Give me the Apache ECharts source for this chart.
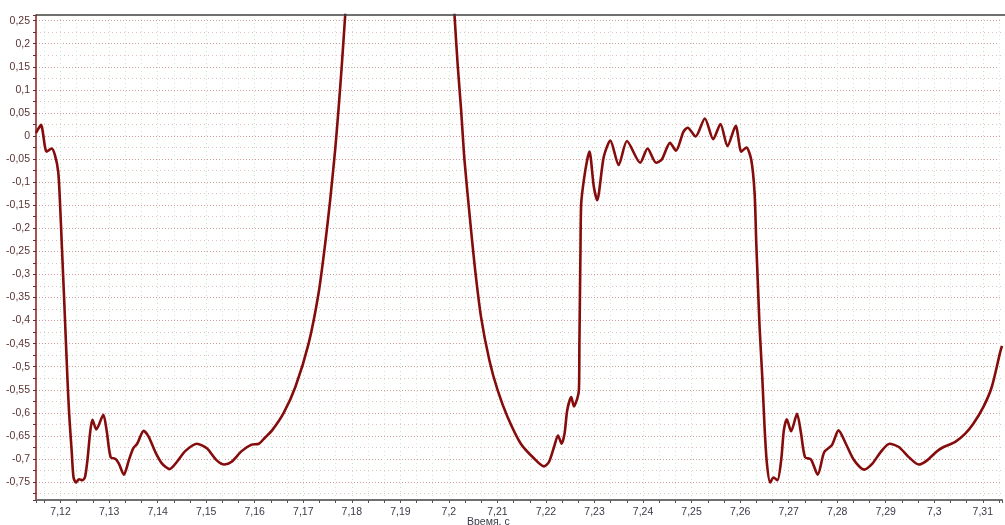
<!DOCTYPE html>
<html>
<head>
<meta charset="utf-8">
<script src="https://cdn.jsdelivr.net/npm/echarts@6/dist/echarts.min.js"></script>
<style>
html,body{margin:0;padding:0;background:#fff;overflow:hidden;}
#chart{width:1005px;height:525px;}
</style>
</head>
<body>
<div id="chart"></div>
<script>
// Time, s
var times = [
7.11494,7.11596,7.11713,7.11816,7.11883,7.11951,7.11986,7.12027,7.12078,7.12143,
7.12176,7.12232,7.12266,7.12314,7.12381,7.12451,7.12504,7.12553,7.12607,7.12656,
7.12738,7.12881,7.12949,7.13031,7.13133,7.13201,7.13304,7.13406,7.13496,7.13578,
7.13713,7.13816,7.13953,7.14091,7.14246,7.14398,7.14568,7.14808,7.15013,7.15218,
7.15374,7.15525,7.15730,7.15935,7.16085,7.16208,7.16357,7.16597,7.16837,7.17110,
7.17315,7.17452,7.17554,7.17657,7.17725,7.17792,7.17862,7.17930,7.17971,7.18134,
7.18995,7.19877,7.20041,7.20116,7.20184,7.20252,7.20321,7.20424,7.20526,7.20662,
7.20834,7.21004,7.21209,7.21482,7.21756,7.21961,7.22064,7.22166,7.22248,7.22322,
7.22383,7.22439,7.22521,7.22576,7.22644,7.22679,7.22689,7.22699,7.22711,7.22726,
7.22781,7.22849,7.22896,7.22986,7.23054,7.23191,7.23326,7.23498,7.23668,7.23941,
7.24093,7.24269,7.24386,7.24556,7.24679,7.24831,7.24919,7.25083,7.25273,7.25445,
7.25595,7.25739,7.25909,7.26025,7.26128,7.26230,7.26298,7.26333,7.26368,7.26401,
7.26456,7.26503,7.26552,7.26620,7.26687,7.26769,7.26845,7.26901,7.26962,7.27050,
7.27173,7.27255,7.27337,7.27460,7.27598,7.27733,7.27891,7.28028,7.28178,7.28348,
7.28553,7.28725,7.28895,7.29079,7.29270,7.29475,7.29680,7.29852,7.30057,7.30192,
7.30432,7.30637,7.30807,7.31012,7.31184,7.31354,7.31395
];
// Signal value
var values = [
0.0065,0.024,-0.034,-0.027,-0.041,-0.077,-0.139,-0.239,-0.364,-0.529,
-0.600,-0.688,-0.739,-0.751,-0.744,-0.746,-0.739,-0.703,-0.645,-0.615,
-0.636,-0.604,-0.638,-0.696,-0.700,-0.710,-0.734,-0.703,-0.677,-0.667,
-0.639,-0.652,-0.685,-0.710,-0.722,-0.706,-0.683,-0.667,-0.677,-0.703,
-0.712,-0.706,-0.683,-0.669,-0.667,-0.654,-0.638,-0.600,-0.544,-0.450,
-0.341,-0.233,-0.139,-0.030,0.056,0.150,0.259,0.36,0.42,0.70,
1.30,0.70,0.42,0.262,0.150,0.056,-0.052,-0.168,-0.276,-0.392,
-0.486,-0.551,-0.609,-0.667,-0.699,-0.716,-0.706,-0.674,-0.649,-0.667,
-0.645,-0.594,-0.566,-0.586,-0.569,-0.551,-0.450,-0.356,-0.247,-0.146,
-0.095,-0.052,-0.034,-0.110,-0.139,-0.045,-0.010,-0.063,-0.011,-0.058,
-0.027,-0.058,-0.051,-0.015,-0.032,0.009,0.018,-0.001,0.038,-0.007,
0.026,-0.022,0.022,-0.034,-0.025,-0.052,-0.124,-0.233,-0.327,-0.414,
-0.522,-0.630,-0.710,-0.751,-0.740,-0.746,-0.703,-0.638,-0.614,-0.640,
-0.602,-0.645,-0.696,-0.701,-0.734,-0.685,-0.670,-0.638,-0.667,-0.703,
-0.723,-0.710,-0.685,-0.667,-0.674,-0.696,-0.712,-0.703,-0.683,-0.674,
-0.663,-0.645,-0.623,-0.587,-0.544,-0.470,-0.455
];
var xMin = 7.11494, xMax = 7.31395;
var yMin = -0.7889, yMax = 0.2622;
var xAxisTitle = 'Время, с';

function fmt(step) {
  return function (v) {
    var k = v / step;
    if (Math.abs(k - Math.round(k)) > 1e-6) return '';
    return String(parseFloat(v.toFixed(4))).replace('.', ',');
  };
}

var data = times.map(function (t, i) { return [t, values[i]]; });

var chart = echarts.init(document.getElementById('chart'), null, {renderer: 'canvas'});
chart.setOption({
  animation: false,
  backgroundColor: '#ffffff',
  grid: {left: 36, right: -2, top: 15, bottom: 25, containLabel: false, show: false},
  xAxis: {
    type: 'value', min: xMin, max: xMax, splitNumber: 20,
    position: 'bottom',
    axisLine: {show: true, onZero: false, lineStyle: {color: '#707070', width: 2}},
    axisTick: {show: true, length: 3, lineStyle: {color: '#555'}},
    minorTick: {show: true, splitNumber: 3, length: 3, lineStyle: {color: '#555'}},
    axisLabel: {formatter: fmt(0.01), color: '#3a3a48', fontFamily: 'Liberation Sans', fontSize: 10.5, margin: 7},
    splitLine: {show: true, showMinLine: false, showMaxLine: false, lineStyle: {color: '#bfe8bf', type: [1, 3], width: 1}},
    minorSplitLine: {show: true, lineStyle: {color: '#cdeecd', type: [1, 3], width: 1}}
  },
  yAxis: {
    type: 'value', min: yMin, max: yMax, splitNumber: 21,
    axisLine: {show: true, onZero: false, lineStyle: {color: '#8b1a1a', width: 1.5}},
    axisTick: {show: true, length: 3, lineStyle: {color: '#6a3030'}},
    minorTick: {show: true, splitNumber: 2, length: 3, lineStyle: {color: '#6a3030'}},
    axisLabel: {formatter: fmt(0.05), color: '#5a3434', fontFamily: 'Liberation Sans', fontSize: 10.5, margin: 6},
    splitLine: {show: true, showMinLine: false, showMaxLine: false, lineStyle: {color: '#d09a9a', type: [1, 2], width: 1}},
    minorSplitLine: {show: true, lineStyle: {color: '#e3c0c0', type: [1, 3], width: 1}}
  },
  graphic: [{
    type: 'line', z: 10,
    shape: {x1: 36, y1: 15, x2: 1005, y2: 15},
    style: {stroke: '#404040', lineWidth: 1.5}
  }, {
    type: 'text', left: 467, top: 517,
    style: {text: xAxisTitle, font: '10.5px "Liberation Sans"', fill: '#3a3a48'}
  }],
  series: [{
    type: 'line', data: data, showSymbol: false, smooth: 0.25,
    lineStyle: {color: '#850c0c', width: 2.6},
    clip: true
  }]
});
</script>
</body>
</html>
